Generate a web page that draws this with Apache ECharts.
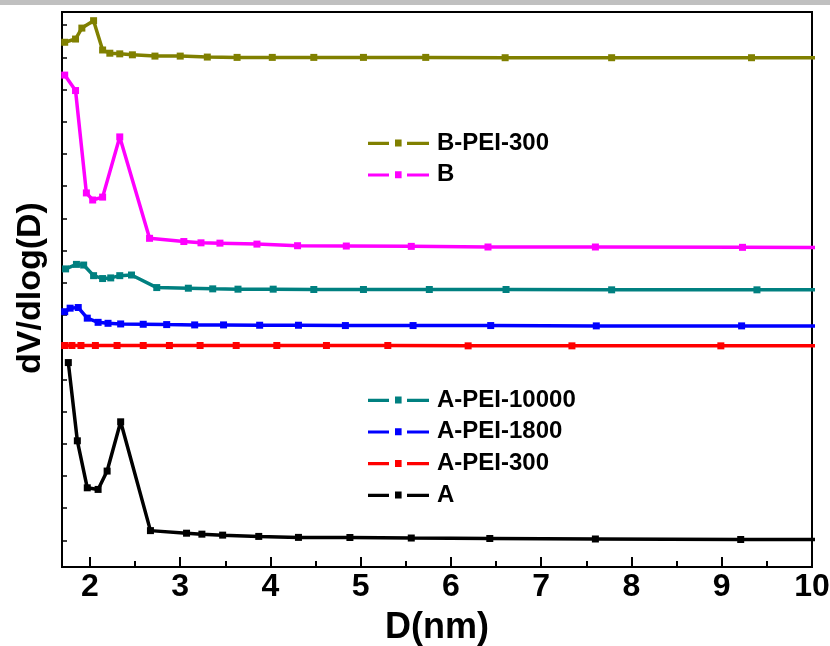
<!DOCTYPE html>
<html>
<head>
<meta charset="utf-8">
<script src="https://cdn.jsdelivr.net/npm/echarts@6/dist/echarts.min.js"></script>
<style>html,body{margin:0;padding:0;background:#fff;}#c{width:830px;height:646px;}</style>
</head>
<body>
<div id="c"></div>
<script>
// x positions (D, nm) and dV/dlog(D) values (arbitrary stacked units)
const xA      = [1.76, 1.86, 1.97, 2.09, 2.19, 2.34, 2.67, 3.07, 3.24, 3.47, 3.87, 4.31, 4.88, 5.56, 6.43, 7.60, 9.21, 10.9];
const yA      = [5.52, 3.09, 1.63, 1.58, 2.15, 3.68, 0.30, 0.22, 0.19, 0.16, 0.12, 0.09, 0.087, 0.07, 0.056, 0.04, 0.025, 0.02];

const xA300   = [1.72, 1.80, 1.90, 2.06, 2.30, 2.59, 2.88, 3.22, 3.62, 4.07, 4.62, 5.30, 6.19, 7.34, 8.99, 10.9];
const yA300   = [6.05, 6.05, 6.05, 6.05, 6.05, 6.05, 6.05, 6.05, 6.05, 6.05, 6.05, 6.05, 6.04, 6.04, 6.04, 6.04];

const xA1800  = [1.72, 1.78, 1.87, 1.97, 2.09, 2.20, 2.34, 2.59, 2.85, 3.16, 3.48, 3.88, 4.31, 4.83, 5.58, 6.44, 7.61, 9.22, 10.9];
const yA1800  = [7.10, 7.21, 7.23, 6.90, 6.77, 6.74, 6.72, 6.71, 6.70, 6.69, 6.69, 6.68, 6.68, 6.67, 6.67, 6.67, 6.66, 6.66, 6.66];

const xA10000 = [1.73, 1.85, 1.93, 2.04, 2.14, 2.23, 2.33, 2.46, 2.74, 3.09, 3.36, 3.64, 4.03, 4.48, 5.03, 5.76, 6.61, 7.78, 9.39, 10.9];
const yA10000 = [8.43, 8.57, 8.55, 8.22, 8.13, 8.15, 8.22, 8.24, 7.85, 7.83, 7.81, 7.80, 7.80, 7.79, 7.79, 7.79, 7.79, 7.78, 7.78, 7.78];

const xB      = [1.72, 1.84, 1.96, 2.03, 2.14, 2.33, 2.66, 3.04, 3.23, 3.44, 3.85, 4.30, 4.84, 5.56, 6.41, 7.60, 9.23, 10.9];
const yB      = [14.45, 13.97, 10.79, 10.57, 10.66, 12.53, 9.38, 9.28, 9.24, 9.23, 9.20, 9.15, 9.14, 9.13, 9.11, 9.11, 9.10, 9.09];

const xB300   = [1.72, 1.84, 1.91, 2.04, 2.14, 2.22, 2.33, 2.47, 2.72, 3.00, 3.30, 3.63, 4.02, 4.48, 5.03, 5.72, 6.60, 7.78, 9.33, 10.9];
const yB300   = [15.47, 15.57, 15.91, 16.14, 15.23, 15.13, 15.11, 15.08, 15.04, 15.04, 15.01, 15.00, 15.00, 15.00, 15.00, 15.00, 14.99, 14.99, 14.99, 14.99];

const xTickLabels = [2, 3, 4, 5, 6, 7, 8, 9, 10];
const xMinorTicks = [2.5, 3.5, 4.5, 5.5, 6.5, 7.5, 8.5, 9.5];
const yTicks = [0, 1, 2, 3, 4, 5, 6, 7, 8, 9, 10, 11, 12, 13, 14, 15, 16];

const seriesDefs = [
  {name: 'B-PEI-300',   x: xB300,   y: yB300,   color: '#808000'},
  {name: 'B',           x: xB,      y: yB,      color: '#ff00ff'},
  {name: 'A-PEI-10000', x: xA10000, y: yA10000, color: '#008080'},
  {name: 'A-PEI-1800',  x: xA1800,  y: yA1800,  color: '#0000ff'},
  {name: 'A-PEI-300',   x: xA300,   y: yA300,   color: '#ff0000'},
  {name: 'A',           x: xA,      y: yA,      color: '#000000'}
];

const FONT = '"Liberation Sans", Arial, sans-serif';
const icon = 'path://M0,2.2H21V5.4H0Z M27,0H33.6V7H27Z M39,2.2H61V5.4H39Z';
const legendCommon = {
  orient: 'vertical', left: 368, padding: 0, itemGap: 7.7,
  itemWidth: 61, itemHeight: 7, icon: icon,
  textStyle: {fontFamily: FONT, fontWeight: 'bold', fontSize: 24, color: '#000', lineHeight: 24, padding: [0, 0, 0, 3]}
};

const chart = echarts.init(document.getElementById('c'), null, {renderer: 'canvas'});
chart.setOption({
  animation: false,
  backgroundColor: '#fff',
  grid: {left: 62, right: 18, top: 12, bottom: 79, outerBoundsMode: 'none', containLabel: false,
         show: true, borderColor: '#000', borderWidth: 2, backgroundColor: 'transparent'},
  legend: [
    Object.assign({}, legendCommon, {top: 131, data: ['B-PEI-300', 'B']}),
    Object.assign({}, legendCommon, {top: 388, data: ['A-PEI-10000', 'A-PEI-1800', 'A-PEI-300', 'A']})
  ],
  xAxis: [{
    type: 'value', min: 1.69, max: 10, position: 'bottom',
    splitLine: {show: false},
    axisLine: {onZero: false, lineStyle: {color: '#000', width: 2}},
    axisTick: {inside: true, length: 10, lineStyle: {color: '#000', width: 2}, customValues: xTickLabels},
    axisLabel: {customValues: xTickLabels, fontFamily: FONT, fontWeight: 'bold', fontSize: 32, color: '#000', margin: 4},
    name: 'D(nm)', nameLocation: 'middle', nameGap: 43,
    nameTextStyle: {fontFamily: FONT, fontWeight: 'bold', fontSize: 36, color: '#000'}
  }, {
    type: 'value', min: 1.69, max: 10, position: 'bottom',
    splitLine: {show: false}, axisLine: {show: false, onZero: false},
    axisTick: {inside: true, length: 6, lineStyle: {color: '#000', width: 2}, customValues: xMinorTicks},
    axisLabel: {show: false}
  }],
  yAxis: {
    type: 'value', min: -0.83, max: 16.41,
    splitLine: {show: false},
    axisLine: {onZero: false, lineStyle: {color: '#000', width: 2}},
    axisTick: {inside: true, length: 5, lineStyle: {color: '#000', width: 1.5}, customValues: yTicks},
    axisLabel: {show: false}
  },
  graphic: [
    {type: 'rect', left: 0, top: 0, shape: {width: 830, height: 5}, style: {fill: '#c0c0c0'}, silent: true},
    {type: 'text', x: 31, y: 288, rotation: Math.PI / 2,
     style: {text: 'dV/dlog(D)', fontFamily: FONT, fontWeight: 'bold', fontSize: 34, fill: '#000', align: 'center', verticalAlign: 'middle'}}
  ],
  series: seriesDefs.map(s => ({
    name: s.name, type: 'line', xAxisIndex: 0,
    data: s.x.map((v, i) => [v, s.y[i]]),
    symbol: 'rect', symbolSize: 7, showSymbol: true,
    lineStyle: {color: s.color, width: 3.5},
    itemStyle: {color: s.color},
    clip: true
  }))
});
</script>
</body>
</html>
